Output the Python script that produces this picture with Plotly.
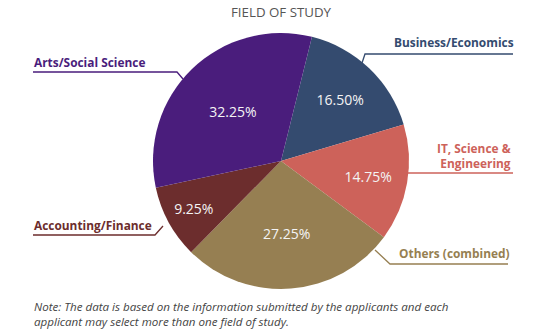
import plotly.graph_objects as go

W, H = 552, 331

# ---- data ----
categories = ["Business/Economics", "IT, Science & Engineering", "Others (combined)",
              "Accounting/Finance", "Arts/Social Science"]
values = [16.50, 14.75, 27.25, 9.25, 32.25]
colors = ["#344b6f", "#cd625a", "#967f52", "#6c2d2d", "#4a1d7c"]
label_text = ["Business/Economics", "IT, Science &<br>Engineering", "Others (combined)",
              "Accounting/Finance", "Arts/Social Science"]

def px(x):
    return x / W

def py(y):
    return 1 - y / H

cx, cy, r = 281, 161, 128

fig = go.Figure(go.Pie(
    labels=categories,
    values=values,
    sort=False,
    direction="clockwise",
    rotation=14,
    marker=dict(colors=colors, line=dict(width=0)),
    text=[f"{v:.2f}%" for v in values],
    textinfo="text",
    textposition="inside",
    insidetextorientation="horizontal",
    textfont=dict(family="Open Sans", size=14, color="#f4f4f4"),
    hoverinfo="label+value",
    showlegend=False,
    domain=dict(x=[px(cx - r), px(cx + r)], y=[py(cy + r), py(cy - r)]),
))

# label annotations: (x, y, anchor)
label_pos = [
    (392, 42, "left"),
    (513, 155, "right"),
    (397, 253, "left"),
    (32, 225, "left"),
    (32, 62, "left"),
]
annotations = []
for txt, (x, y, anc), col in zip(label_text, label_pos, colors):
    annotations.append(dict(
        text=f"<b>{txt}</b>", x=px(x), y=py(y), xref="paper", yref="paper",
        xanchor=anc, yanchor="middle", showarrow=False, align=anc,
        font=dict(family="Open Sans", size=11.9, color=col),
    ))

annotations.append(dict(
    text="FIELD OF STUDY", x=px(281), y=py(12), xref="paper", yref="paper",
    xanchor="center", yanchor="middle", showarrow=False,
    font=dict(family="Open Sans", size=13.3, color="#555555"),
))
annotations.append(dict(
    text="<i>Note: The data is based on the information submitted by the applicants and each<br>"
         "applicant may select more than one field of study.</i>",
    x=px(32), y=py(313.5), xref="paper", yref="paper",
    xanchor="left", yanchor="middle", showarrow=False, align="left",
    font=dict(family="Open Sans", size=11.6, color="#444444"),
))

# leader lines (polylines in pixel space)
leaders = [
    [(362, 63), (365, 54), (513, 54)],
    [(400, 173), (513, 173)],
    [(375, 250), (390, 264), (508, 264)],
    [(163, 226), (155, 235), (33, 235)],
    [(183, 79), (177, 72), (33, 72)],
]
shapes = []
for pts, col in zip(leaders, colors):
    path = "M " + " L ".join(f"{px(x)},{py(y)}" for x, y in pts)
    shapes.append(dict(type="path", path=path, xref="paper", yref="paper",
                       line=dict(color=col, width=1.3), layer="below"))

fig.update_layout(
    width=W, height=H,
    margin=dict(l=0, r=0, t=0, b=0),
    paper_bgcolor="white",
    plot_bgcolor="white",
    annotations=annotations,
    shapes=shapes,
)

fig.write_html("out.html")
